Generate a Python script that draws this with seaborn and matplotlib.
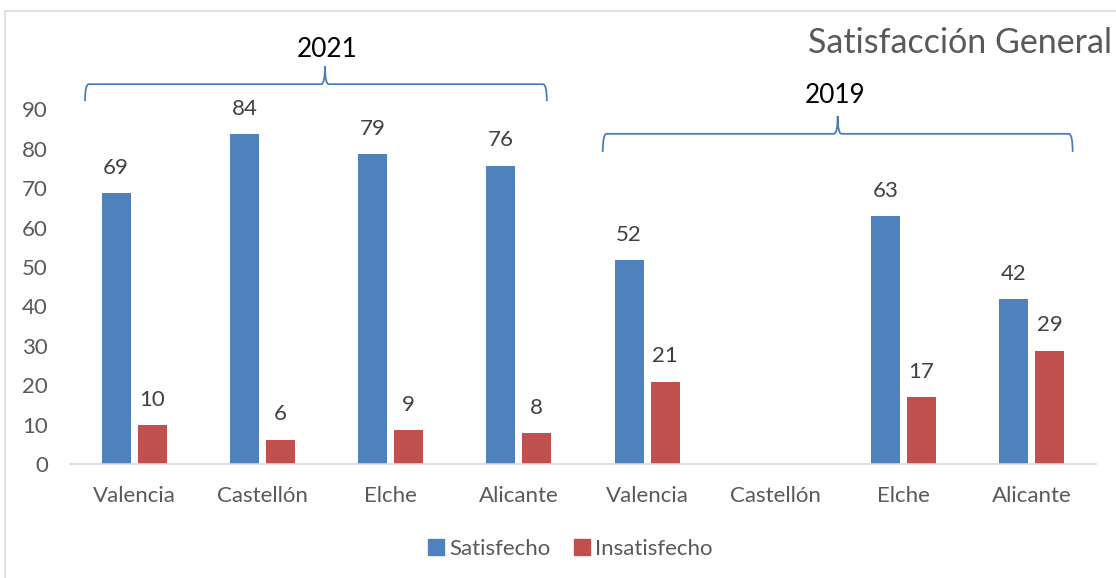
import numpy as np
import pandas as pd
import matplotlib
matplotlib.use("Agg")
import matplotlib.pyplot as plt
from matplotlib.path import Path
from matplotlib.patches import PathPatch, Rectangle
from matplotlib.lines import Line2D
import seaborn as sns

# ---- data ----
years = ["2021", "2021", "2021", "2021", "2019", "2019", "2019", "2019"]
cities = ["Valencia", "Castellón", "Elche", "Alicante",
          "Valencia", "Castellón", "Elche", "Alicante"]
satisfecho = [68.8, 83.7, 78.6, 75.7, 51.8, np.nan, 62.9, 41.9]
insatisfecho = [9.9, 6.2, 8.6, 7.9, 20.9, np.nan, 16.9, 28.8]
series_names = ["Satisfecho", "Insatisfecho"]
colors = ["#4F81BD", "#C0504D"]
title = "Satisfacción General"
yticks = [0, 10, 20, 30, 40, 50, 60, 70, 80, 90]

keys = [f"{y} {c}" for y, c in zip(years, cities)]
df = pd.DataFrame({
    "key": keys * 2,
    "value": satisfecho + insatisfecho,
    "serie": [series_names[0]] * len(keys) + [series_names[1]] * len(keys),
})

sns.set_theme(style="white")
plt.rcParams["font.family"] = ["Lato", "DejaVu Sans"]

W, H = 1116, 578
fig = plt.figure(figsize=(W / 100, H / 100), dpi=100)
ax = fig.add_axes([70 / W, 1 - 464 / H, (1096 - 70) / W, (464 - 109.4) / H])

sns.barplot(data=df, x="key", y="value", hue="serie", order=keys,
            hue_order=series_names, palette=colors, width=0.56, gap=0.193,
            saturation=1, ax=ax, legend=False, errorbar=None,
            edgecolor="none")

for cont in ax.containers:
    labels = ["" if np.isnan(v) else f"{round(v):d}" for v in cont.datavalues]
    ax.bar_label(cont, labels=labels, padding=11, fontsize=16, color="#404040")

ax.set_xlim(-0.5, len(keys) - 0.5)
ax.set_ylim(0, 90)
ax.set_yticks(yticks)
ax.set_xticks(range(len(keys)))
ax.set_xticklabels(cities)
ax.set_xlabel("")
ax.set_ylabel("")
ax.tick_params(axis="x", length=0, pad=16, labelsize=16, labelcolor="#595959")
ax.tick_params(axis="y", length=0, pad=16, labelsize=16, labelcolor="#595959")
for s in ["top", "right", "left"]:
    ax.spines[s].set_visible(False)
ax.spines["bottom"].set_color("#D9D9D9")
ax.spines["bottom"].set_linewidth(1.2)


def brace(x0, x1, xm, yh, ye, yt, dx=0.03, dy=1.2):
    verts = [(x0, ye), (x0, yh), (x0 + dx, yh),
             (xm - dx, yh), (xm, yh), (xm, yt),
             (xm, yh), (xm + dx, yh),
             (x1 - dx, yh), (x1, yh), (x1, ye)]
    codes = [Path.MOVETO, Path.CURVE3, Path.CURVE3,
             Path.LINETO, Path.CURVE3, Path.CURVE3,
             Path.CURVE3, Path.CURVE3,
             Path.LINETO, Path.CURVE3, Path.CURVE3]
    p = PathPatch(Path(verts, codes), fill=False, edgecolor="#4A7EBB",
                  lw=1.3, clip_on=False)
    ax.add_patch(p)


brace(-0.383, 3.218, 1.488, 96.4, 92.1, 101.0)
brace(3.654, 7.318, 5.486, 83.8, 79.2, 88.3)
ax.text(1.503, 105.2, "2021", ha="center", va="center", fontsize=18.8,
        color="black", clip_on=False)
ax.text(5.463, 93.6, "2019", ha="center", va="center", fontsize=18.8,
        color="black", clip_on=False)

fig.text(808 / W, 1 - 43 / H, title, ha="left", va="center", fontsize=24.5,
         color="#595959")

handles = [Line2D([0], [0], marker="s", linestyle="none", markersize=11,
                  markerfacecolor=c, markeredgecolor=c) for c in colors]
fig.legend(handles, series_names, loc="center", bbox_to_anchor=(570 / W, 1 - 549 / H),
           ncol=2, frameon=False, fontsize=16, labelcolor="#595959",
           handletextpad=0.2, columnspacing=1.0, handlelength=0.8)

fig.patches.append(Rectangle((5 / W, -0.1), 1.2, 1.1 - 11 / H,
                             transform=fig.transFigure, fill=False,
                             edgecolor="#D9D9D9", lw=1.2))

fig.savefig("out.png", dpi=100)
